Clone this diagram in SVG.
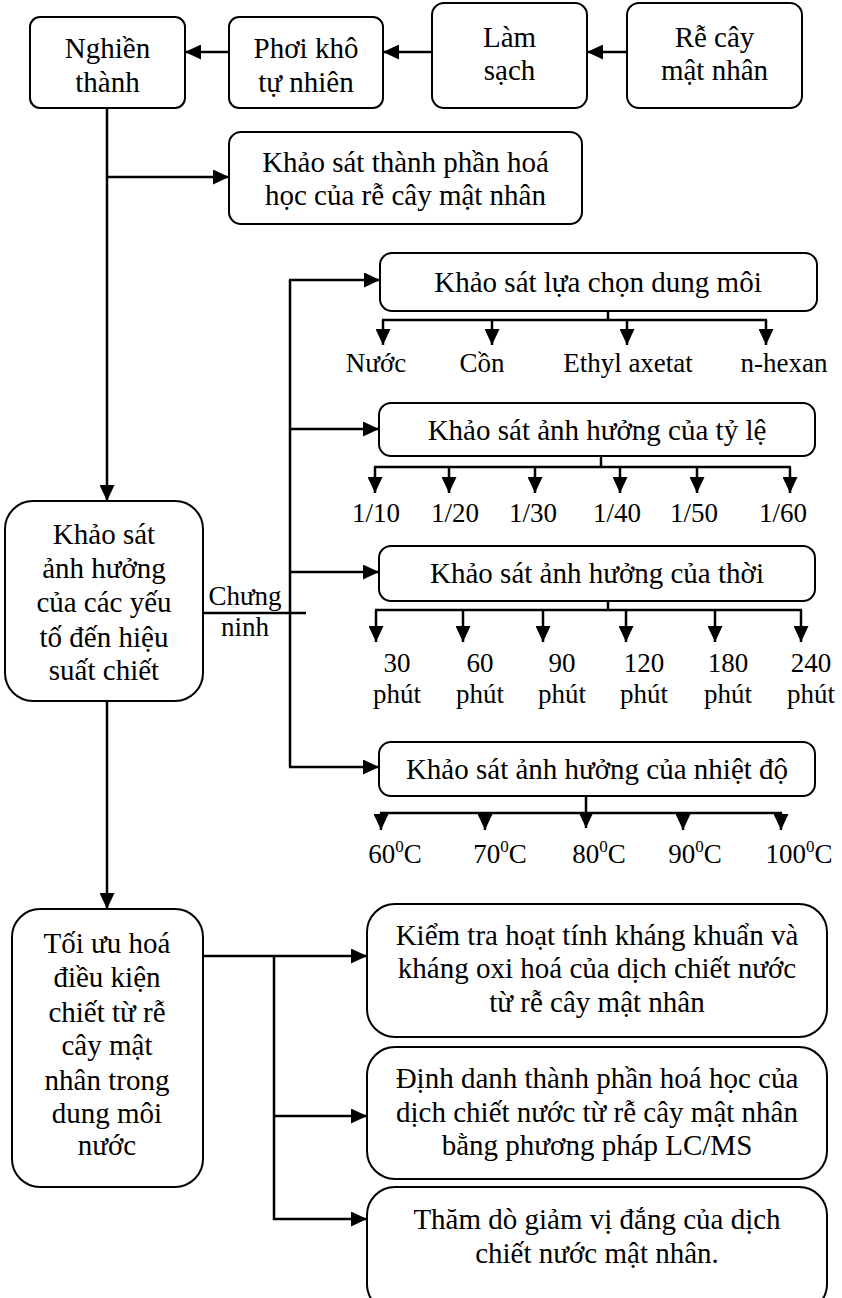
<svg xmlns="http://www.w3.org/2000/svg" width="842" height="1298" viewBox="0 0 842 1298">
<style>
.box{fill:#fff;stroke:#000;stroke-width:2}
.t{font-family:"Liberation Serif","Times New Roman",serif;font-size:29px;text-anchor:middle;fill:#000}
.s{font-family:"Liberation Serif","Times New Roman",serif;font-size:27px;text-anchor:middle;fill:#000}
.c{stroke:#000;stroke-width:2.5;fill:none}
.ca{stroke:#000;stroke-width:2.5;fill:none;marker-end:url(#ah)}
</style>
<defs>
<marker id="ah" markerWidth="16" markerHeight="15" refX="16" refY="7.5" orient="auto" markerUnits="userSpaceOnUse">
<path d="M0,0 L16,7.5 L0,15 z" fill="#000"/>
</marker>
</defs>
<rect width="842" height="1298" fill="#fff"/>
<g id="connectors">
<line class="ca" x1="627" y1="52" x2="587" y2="52"/>
<line class="ca" x1="432" y1="52" x2="383" y2="52"/>
<line class="ca" x1="229" y1="52" x2="185" y2="52"/>
<line class="ca" x1="107" y1="108" x2="107" y2="501"/>
<line class="ca" x1="107" y1="177" x2="229" y2="177"/>
<line class="c" x1="203" y1="613" x2="306" y2="613"/>
<line class="c" x1="290" y1="280" x2="290" y2="767"/>
<line class="ca" x1="289" y1="280" x2="380" y2="280"/>
<line class="ca" x1="289" y1="429" x2="379" y2="429"/>
<line class="ca" x1="289" y1="572" x2="379" y2="572"/>
<line class="ca" x1="289" y1="767" x2="379" y2="767"/>
<line class="c" x1="608" y1="311" x2="608" y2="320"/>
<line class="c" x1="382" y1="320" x2="767" y2="320"/>
<line class="ca" x1="383" y1="320" x2="383" y2="345"/>
<line class="ca" x1="492" y1="320" x2="492" y2="345"/>
<line class="ca" x1="627" y1="320" x2="627" y2="345"/>
<line class="ca" x1="766" y1="320" x2="766" y2="345"/>
<line class="c" x1="601" y1="456" x2="601" y2="467"/>
<line class="c" x1="374" y1="467" x2="791" y2="467"/>
<line class="ca" x1="375" y1="467" x2="375" y2="493"/>
<line class="ca" x1="449" y1="467" x2="449" y2="493"/>
<line class="ca" x1="535" y1="467" x2="535" y2="493"/>
<line class="ca" x1="620" y1="467" x2="620" y2="493"/>
<line class="ca" x1="697" y1="467" x2="697" y2="493"/>
<line class="ca" x1="790" y1="467" x2="790" y2="493"/>
<line class="c" x1="608" y1="601" x2="608" y2="610"/>
<line class="c" x1="375" y1="610" x2="802" y2="610"/>
<line class="ca" x1="376" y1="610" x2="376" y2="642"/>
<line class="ca" x1="463" y1="610" x2="463" y2="642"/>
<line class="ca" x1="543" y1="610" x2="543" y2="642"/>
<line class="ca" x1="626" y1="610" x2="626" y2="642"/>
<line class="ca" x1="715" y1="610" x2="715" y2="642"/>
<line class="ca" x1="801" y1="610" x2="801" y2="642"/>
<line class="c" x1="586" y1="796" x2="586" y2="813"/>
<line class="c" x1="380" y1="813" x2="782" y2="813"/>
<line class="ca" x1="381" y1="813" x2="381" y2="830"/>
<line class="ca" x1="485" y1="813" x2="485" y2="830"/>
<line class="ca" x1="586" y1="813" x2="586" y2="828"/>
<line class="ca" x1="683" y1="813" x2="683" y2="830"/>
<line class="ca" x1="781" y1="813" x2="781" y2="830"/>
<line class="ca" x1="107" y1="701" x2="107" y2="909"/>
<line class="ca" x1="203" y1="956" x2="367" y2="956"/>
<line class="c" x1="274" y1="956" x2="274" y2="1220"/>
<line class="ca" x1="273" y1="1116" x2="367" y2="1116"/>
<line class="ca" x1="273" y1="1219" x2="367" y2="1219"/>
</g>
<g id="n-nghien">
<rect class="box" x="30" y="17" width="155" height="91" rx="10"/>
<text class="t" x="107.5" y="58">Nghiền</text>
<text class="t" x="107.5" y="92">thành</text>
</g>
<g id="n-phoi">
<rect class="box" x="229" y="17" width="154" height="91" rx="10"/>
<text class="t" x="306" y="58">Phơi khô</text>
<text class="t" x="306" y="92">tự nhiên</text>
</g>
<g id="n-lam">
<rect class="box" x="432" y="3" width="155" height="105" rx="12"/>
<text class="t" x="509.5" y="47">Làm</text>
<text class="t" x="509.5" y="80">sạch</text>
</g>
<g id="n-re">
<rect class="box" x="627" y="3" width="175" height="105" rx="12"/>
<text class="t" x="714.5" y="47">Rễ cây</text>
<text class="t" x="714.5" y="80">mật nhân</text>
</g>
<g id="n-thanhphan">
<rect class="box" x="229" y="132" width="353" height="92" rx="12"/>
<text class="t" x="405.5" y="172">Khảo sát thành phần hoá</text>
<text class="t" x="405.5" y="205">học của rễ cây mật nhân</text>
</g>
<g id="n-anhhuong">
<rect class="box" x="5" y="501" width="198" height="200" rx="28"/>
<text class="t" x="104" y="544">Khảo sát</text>
<text class="t" x="104" y="578">ảnh hưởng</text>
<text class="t" x="104" y="612">của các yếu</text>
<text class="t" x="104" y="647">tố đến hiệu</text>
<text class="t" x="104" y="680">suất chiết</text>
</g>
<g id="lbl-chung">
<text class="s" x="245" y="605" font-size="26">Chưng</text>
<text class="s" x="245" y="636" font-size="26">ninh</text>
</g>
<g id="n-dungmoi">
<rect class="box" x="380" y="253" width="437" height="58" rx="12"/>
<text class="t" x="598" y="292">Khảo sát lựa chọn dung môi</text>
<text class="s" x="376" y="372">Nước</text>
<text class="s" x="482" y="372">Cồn</text>
<text class="s" x="628" y="372">Ethyl axetat</text>
<text class="s" x="784" y="372">n-hexan</text>
</g>
<g id="n-tyle">
<rect class="box" x="379" y="403" width="436" height="53" rx="12"/>
<text class="t" x="597" y="440">Khảo sát ảnh hưởng của tỷ lệ</text>
<text class="s" x="376" y="522">1/10</text>
<text class="s" x="455" y="522">1/20</text>
<text class="s" x="533" y="522">1/30</text>
<text class="s" x="617" y="522">1/40</text>
<text class="s" x="694" y="522">1/50</text>
<text class="s" x="783" y="522">1/60</text>
</g>
<g id="n-thoi">
<rect class="box" x="379" y="546" width="436" height="55" rx="12"/>
<text class="t" x="597" y="583">Khảo sát ảnh hưởng của thời</text>
<text class="s" x="397" y="672">30</text>
<text class="s" x="480" y="672">60</text>
<text class="s" x="562" y="672">90</text>
<text class="s" x="644" y="672">120</text>
<text class="s" x="728" y="672">180</text>
<text class="s" x="811" y="672">240</text>
<text class="s" x="397" y="703">phút</text>
<text class="s" x="480" y="703">phút</text>
<text class="s" x="562" y="703">phút</text>
<text class="s" x="644" y="703">phút</text>
<text class="s" x="728" y="703">phút</text>
<text class="s" x="811" y="703">phút</text>
</g>
<g id="n-nhietdo">
<rect class="box" x="379" y="742" width="436" height="54" rx="12"/>
<text class="t" x="597" y="779">Khảo sát ảnh hưởng của nhiệt độ</text>
<text class="s" x="395" y="863">60<tspan font-size="17" dy="-11">0</tspan><tspan dy="11">C</tspan></text>
<text class="s" x="500" y="863">70<tspan font-size="17" dy="-11">0</tspan><tspan dy="11">C</tspan></text>
<text class="s" x="599" y="863">80<tspan font-size="17" dy="-11">0</tspan><tspan dy="11">C</tspan></text>
<text class="s" x="695" y="863">90<tspan font-size="17" dy="-11">0</tspan><tspan dy="11">C</tspan></text>
<text class="s" x="799" y="863">100<tspan font-size="17" dy="-11">0</tspan><tspan dy="11">C</tspan></text>
</g>
<g id="n-toiuu">
<rect class="box" x="12" y="909" width="191" height="278" rx="28"/>
<text class="t" x="107" y="953">Tối ưu hoá</text>
<text class="t" x="107" y="987">điều kiện</text>
<text class="t" x="107" y="1022">chiết từ rễ</text>
<text class="t" x="107" y="1055">cây mật</text>
<text class="t" x="107" y="1090">nhân trong</text>
<text class="t" x="107" y="1123">dung môi</text>
<text class="t" x="107" y="1155">nước</text>
</g>
<g id="n-kiemtra">
<rect class="box" x="367" y="904" width="460" height="133" rx="28"/>
<text class="t" x="597" y="945">Kiểm tra hoạt tính kháng khuẩn và</text>
<text class="t" x="597" y="978">kháng oxi hoá của dịch chiết nước</text>
<text class="t" x="597" y="1012">từ rễ cây mật nhân</text>
</g>
<g id="n-dinhdanh">
<rect class="box" x="367" y="1047" width="460" height="132" rx="28"/>
<text class="t" x="597" y="1088">Định danh thành phần hoá học của</text>
<text class="t" x="597" y="1122">dịch chiết nước từ rễ cây mật nhân</text>
<text class="t" x="597" y="1155">bằng phương pháp LC/MS</text>
</g>
<g id="n-thamdo">
<rect class="box" x="367" y="1187" width="460" height="125" rx="28"/>
<text class="t" x="597" y="1229">Thăm dò giảm vị đắng của dịch</text>
<text class="t" x="597" y="1263">chiết nước mật nhân.</text>
</g>
</svg>
